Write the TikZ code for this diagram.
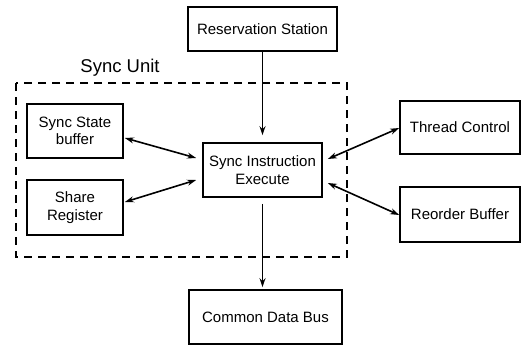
\documentclass[tikz,border=0pt]{standalone}
\usepackage{fontspec}
\setmainfont{Liberation Sans}
\usetikzlibrary{arrows.meta,calc}
\begin{document}
\begin{tikzpicture}[x=1pt,y=-1pt,
  blk/.style={draw,line width=1.7pt,align=center,inner sep=0pt,font=\fontsize{15}{17.5}\selectfont},
  conn/.style={line width=1.6pt,-{Stealth[length=9pt,width=6pt]}},
  bconn/.style={line width=1.6pt,{Stealth[length=9pt,width=6pt]}-{Stealth[length=9pt,width=6pt]}}]
\useasboundingbox (0,0) rectangle (529,345);
\node[blk,minimum width=149pt,minimum height=44pt] (rs) at (262.5,29) {Reservation Station};
\node[blk,minimum width=96pt,minimum height=54pt] (ssb) at (75,131) {Sync State\\buffer};
\node[blk,minimum width=96pt,minimum height=55pt] (sr) at (75,207.5) {Share\\Register};
\node[blk,minimum width=119pt,minimum height=54pt] (sie) at (262.5,170) {Sync Instruction\\Execute};
\node[blk,minimum width=120pt,minimum height=53pt] (tc) at (460,127.5) {Thread Control};
\node[blk,minimum width=120pt,minimum height=55pt] (rb) at (460,214.5) {Reorder Buffer};
\node[blk,minimum width=153pt,minimum height=54pt] (cdb) at (265.5,317) {Common Data Bus};
\node[font=\fontsize{18.5}{20}\selectfont] (su) at (120,68) {Sync Unit};
\draw[line width=1.4pt,dash pattern=on 8pt off 6pt] (16,83) rectangle (347,257);
\draw[conn,shorten >=7pt] (rs.south) -- (sie.north);
\draw[conn,shorten <=6pt,shorten >=2pt] (sie.south) -- (sie.south |- cdb.north);
\draw[bconn] ($(ssb.east)+(1,7)$) -- ($(sie.west)+(-6,-12)$);
\draw[bconn] ($(sr.east)+(1,-5.5)$) -- ($(sie.west)+(-6,10)$);
\draw[bconn] ($(tc.west)+(0,0.5)$) -- ($(sie.east)+(5,-11)$);
\draw[bconn] ($(rb.west)+(0,0.5)$) -- ($(sie.east)+(5,13)$);
\end{tikzpicture}
\end{document}
